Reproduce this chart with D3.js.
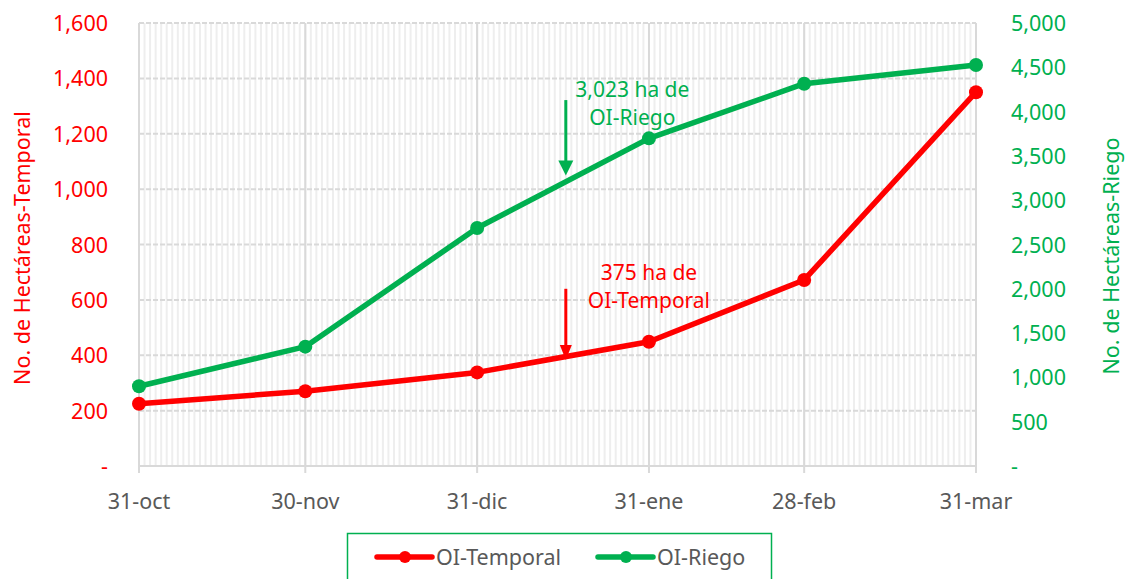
<!DOCTYPE html>
<html><head><meta charset="utf-8">
<script src="https://cdn.jsdelivr.net/npm/d3@7"></script>
<style>
body{margin:0;background:#fff;}
svg{display:block;font-family:"Noto Sans",sans-serif;}
</style></head>
<body><svg id="c" width="1127" height="579"></svg>
<script>
const dates = ["2022-10-31","2022-11-30","2022-12-31","2023-01-31","2023-02-28","2023-03-31"];
const tickLabels = ["31-oct","30-nov","31-dic","31-ene","28-feb","31-mar"];
const temporal = [225, 270, 338, 449, 672, 1350];
const riego = [900, 1347, 2686, 3698, 4315, 4526];
const leftTicks = [0,200,400,600,800,1000,1200,1400,1600];
const rightTicks = [0,500,1000,1500,2000,2500,3000,3500,4000,4500,5000];
const annotRiego = {date:"2023-01-16", value:3280, top:4130, lines:["3,023 ha de","OI-Riego"], labelDate:"2023-01-28"};
const annotTemporal = {date:"2023-01-16", value:383, top:640, lines:["375 ha de","OI-Temporal"], labelDate:"2023-01-31"};

const RED="#FF0000", GREEN="#00B050", GRAY="#595959", GRID="#d9d9d9";
const FS=21.5, AFS=21;
const svg=d3.select("#c");
const parse=d3.utcParse("%Y-%m-%d");
const D=dates.map(parse);
const x=d3.scaleUtc().domain([D[0],D[D.length-1]]).range([139,976]);
const yL=d3.scaleLinear().domain([0,1600]).range([466,23]);
const yR=d3.scaleLinear().domain([0,5000]).range([466,23]);
const fmt=v=>v===0?"-":d3.format(",")(v);

// daily vertical grid
const days=d3.utcDay.range(D[0],d3.utcDay.offset(D[D.length-1],1));
svg.append("g").selectAll("line").data(days).join("line")
 .attr("x1",d=>x(d)).attr("x2",d=>x(d)).attr("y1",yL(1600)).attr("y2",yL(0))
 .attr("stroke","#eeeeee").attr("stroke-width",2);
// horizontal dashed grid
svg.append("g").selectAll("line").data(leftTicks.filter(d=>d>0)).join("line")
 .attr("x1",x.range()[0]).attr("x2",x.range()[1]).attr("y1",d=>yL(d)).attr("y2",d=>yL(d))
 .attr("stroke",GRID).attr("stroke-width",2).attr("stroke-dasharray","5,2");
// major vertical grid at month points
svg.append("g").selectAll("line").data(D).join("line")
 .attr("x1",d=>x(d)).attr("x2",d=>x(d)).attr("y1",yL(1600)).attr("y2",yL(0)+7)
 .attr("stroke",GRID).attr("stroke-width",2);
// bottom axis line
svg.append("line").attr("x1",x.range()[0]).attr("x2",x.range()[1]).attr("y1",yL(0)).attr("y2",yL(0))
 .attr("stroke",GRID).attr("stroke-width",2);

// x tick labels
svg.append("g").selectAll("text").data(D).join("text")
 .attr("x",d=>x(d)).attr("y",509).attr("text-anchor","middle")
 .attr("fill",GRAY).attr("font-size",FS).text((d,i)=>tickLabels[i]);
// left tick labels
svg.append("g").selectAll("text").data(leftTicks).join("text")
 .attr("x",108).attr("y",d=>yL(d)+8).attr("text-anchor","end")
 .attr("fill",RED).attr("font-size",FS).text(fmt);
// right tick labels
svg.append("g").selectAll("text").data(rightTicks).join("text")
 .attr("x",1011).attr("y",d=>yR(d)+8).attr("text-anchor","start")
 .attr("fill",GREEN).attr("font-size",FS).text(fmt);
// axis titles
svg.append("text").attr("transform","translate(30,248) rotate(-90)").attr("text-anchor","middle")
 .attr("fill",RED).attr("font-size",FS).text("No. de Hectáreas-Temporal");
svg.append("text").attr("transform","translate(1119,256) rotate(-90)").attr("text-anchor","middle")
 .attr("fill",GREEN).attr("font-size",FS).text("No. de Hectáreas-Riego");

// lines
function series(vals,y,color){
  const pts=vals.map((v,i)=>[x(D[i]),y(v)]);
  svg.append("path").attr("d",d3.line()(pts)).attr("fill","none").attr("stroke",color)
   .attr("stroke-width",5.5).attr("stroke-linejoin","round").attr("stroke-linecap","round");
  svg.append("g").selectAll("circle").data(pts).join("circle")
   .attr("cx",d=>d[0]).attr("cy",d=>d[1]).attr("r",7).attr("fill",color);
}
series(riego,yR,GREEN);
series(temporal,yL,RED);

// annotations
function annot(a,y,color,textY,hw){
  const ax=x(parse(a.date)), tip=y(a.value), top=y(a.top);
  svg.append("line").attr("x1",ax).attr("x2",ax).attr("y1",top).attr("y2",tip-12)
   .attr("stroke",color).attr("stroke-width",3);
  svg.append("path").attr("d",`M${ax-hw},${tip-15}L${ax+hw},${tip-15}L${ax},${tip}Z`).attr("fill",color);
  const lx=x(parse(a.labelDate));
  a.lines.forEach((t,i)=>svg.append("text").attr("x",lx).attr("y",textY+i*28)
   .attr("text-anchor","middle").attr("fill",color).attr("font-size",AFS).text(t));
}
annot(annotRiego,yR,GREEN,97,7.5);
annot(annotTemporal,yL,RED,280,6);

// legend
const lg=svg.append("g");
lg.append("rect").attr("x",347.5).attr("y",533.5).attr("width",424).attr("height",60)
 .attr("fill","#fff").attr("stroke",GREEN).attr("stroke-width",1.5);
const items=[{n:"OI-Temporal",c:RED,x:377},{n:"OI-Riego",c:GREEN,x:598}];
items.forEach(it=>{
  lg.append("line").attr("x1",it.x).attr("x2",it.x+55).attr("y1",557).attr("y2",557)
   .attr("stroke",it.c).attr("stroke-width",5.5).attr("stroke-linecap","round");
  lg.append("circle").attr("cx",it.x+28).attr("cy",557).attr("r",6).attr("fill",it.c);
  lg.append("text").attr("x",it.x+59).attr("y",565).attr("fill",GRAY).attr("font-size",FS).text(it.n);
});
</script></body></html>
